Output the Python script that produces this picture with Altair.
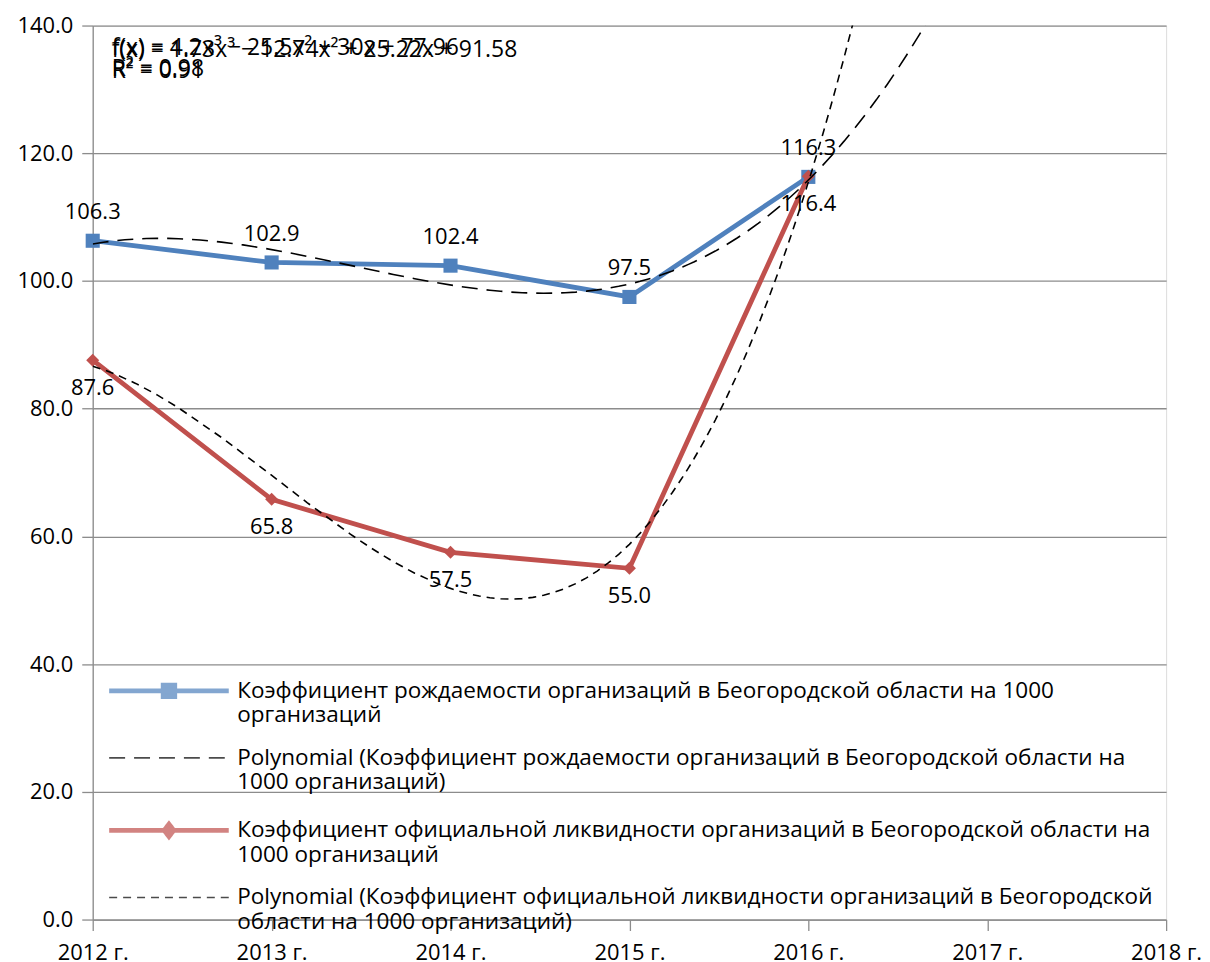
import altair as alt
import pandas as pd

FONT = "Open Sans"
BLUE = "#4F81BD"
RED = "#C0504D"
GRID = "#8c8c8c"

YEARS = [2012, 2013, 2014, 2015, 2016]
BIRTH = [106.3, 102.9, 102.4, 97.5, 116.3]
LIQ = [87.6, 65.8, 57.5, 55.0, 116.4]
X_TICKS = [2012, 2013, 2014, 2015, 2016, 2017, 2018]
Y_TICKS = [0, 20, 40, 60, 80, 100, 120, 140]

S_BIRTH = "Коэффициент рождаемости организаций в Беогородской области на 1000 организаций"
S_LIQ = "Коэффициент официальной ликвидности организаций в Беогородской области на 1000 организаций"
T_BIRTH = "Polynomial (" + S_BIRTH + ")"
T_LIQ = "Polynomial (" + S_LIQ + ")"
SERIES = [S_BIRTH, T_BIRTH, S_LIQ, T_LIQ]
LEGEND_LINES = [
    ["Коэффициент рождаемости организаций в Беогородской области на 1000", "организаций"],
    ["Polynomial (Коэффициент рождаемости организаций в Беогородской области на", "1000 организаций)"],
    ["Коэффициент официальной ликвидности организаций в Беогородской области на", "1000 организаций"],
    ["Polynomial (Коэффициент официальной ликвидности организаций в Беогородской", "области на 1000 организаций)"],
]
EQ_LIQ = ["f(x) = 4.2x³ − 25.5x² + 30x + 77.96", "R² = 0.98"]
EQ_BIRTH = ["f(x) = 1.73x³ − 12.74x² + 25.22x + 91.58", "R² = 0.91"]

df = pd.DataFrame({
    "year": YEARS + YEARS,
    "value": BIRTH + LIQ,
    "series": [S_BIRTH] * len(YEARS) + [S_LIQ] * len(YEARS),
})

x_enc = alt.X(
    "year:Q",
    scale=alt.Scale(domain=[2012, 2018], nice=False, zero=False),
    axis=alt.Axis(values=X_TICKS, labelExpr="datum.value + ' г.'", grid=False,
                  tickSize=11, labelPadding=12, labelFontSize=22, labelFont=FONT,
                  labelColor="black", domainColor=GRID, tickColor=GRID,
                  domainWidth=1.3, tickWidth=1.3, labelFlush=False),
    title=None,
)
y_enc = alt.Y(
    "value:Q",
    scale=alt.Scale(domain=[0, 140], nice=False),
    axis=alt.Axis(values=Y_TICKS, format=".1f", grid=True, gridColor=GRID, gridWidth=1.3,
                  tickSize=11, labelPadding=9, labelFontSize=22, labelFont=FONT,
                  labelColor="black", domainColor=GRID, tickColor=GRID,
                  domainWidth=1.3, tickWidth=1.3),
    title=None,
)

base = alt.Chart(df).encode(x=x_enc, y=y_enc)

blue = base.transform_filter(alt.datum.series == S_BIRTH)
red = base.transform_filter(alt.datum.series == S_LIQ)

blue_line = blue.mark_line(color=BLUE, strokeWidth=4.8)
blue_pts = blue.mark_point(shape="square", filled=True, size=200, color=BLUE, opacity=1)
red_line = red.mark_line(color=RED, strokeWidth=4.8)
red_pts = red.mark_point(shape="diamond", filled=True, size=170, color=RED, opacity=1)

blue_trend = blue.transform_regression(
    "year", "value", method="poly", order=3, extent=[2012, 2018]
).mark_line(color="black", strokeWidth=1.6, strokeDash=[16, 9], clip=True)
red_trend = red.transform_regression(
    "year", "value", method="poly", order=3, extent=[2012, 2018]
).mark_line(color="black", strokeWidth=1.6, strokeDash=[8, 6], clip=True)

blue_lbl = blue.mark_text(dy=-29, fontSize=22, font=FONT, color="black").encode(
    text=alt.Text("value:Q", format=".1f"))
red_lbl = red.mark_text(dy=28, fontSize=22, font=FONT, color="black").encode(
    text=alt.Text("value:Q", format=".1f"))

# legend
label_expr = ""
for name, lines in zip(SERIES, LEGEND_LINES):
    label_expr += "datum.label == '%s' ? ['%s', '%s'] : " % (name, lines[0], lines[1])
label_expr += "datum.label"

PATHS = [
    "M-6,0H6M-0.58,-0.58H0.58V0.58H-0.58Z",
    "M-6,0H6",
    "M-6,0H6M0,-0.62L0.48,0L0,0.62L-0.48,0Z",
    "M-6,0H6",
]
DASHES = [[1, 0], [16, 9], [1, 0], [8, 6]]
WIDTHS = [4.8, 1.6, 4.8, 1.6]

legend = alt.Legend(
    title=None, orient="none", legendX=16, legendY=655, padding=0,
    labelExpr=label_expr, symbolSize=400, symbolOffset=48, labelOffset=56,
    rowPadding=19.5, labelFontSize=22.6, labelFont=FONT, labelColor="black",
    labelLimit=3000, labelBaseline="middle",
    symbolFillColor=BLUE, symbolStrokeColor="black",
)

leg_df = pd.DataFrame({"s": SERIES})
legend_layer = alt.Chart(leg_df).transform_filter("false").mark_point(filled=True).encode(
    fill=alt.Fill("s:N", scale=alt.Scale(domain=SERIES, range=[BLUE, "transparent", RED, "transparent"]), legend=legend),
    stroke=alt.Stroke("s:N", scale=alt.Scale(domain=SERIES, range=[BLUE, "black", RED, "black"]), legend=legend),
    shape=alt.Shape("s:N", scale=alt.Scale(domain=SERIES, range=PATHS), legend=legend),
    strokeDash=alt.StrokeDash("s:N", scale=alt.Scale(domain=SERIES, range=DASHES), legend=legend),
    strokeWidth=alt.StrokeWidth("s:N", scale=alt.Scale(type="ordinal", domain=SERIES, range=WIDTHS), legend=legend),
)

chart = alt.layer(
    blue_line, blue_pts, red_line, red_pts, blue_trend, red_trend, blue_lbl, red_lbl, legend_layer
).properties(
    width=1077, height=897,
    padding={"top": 5, "left": 8, "right": 0, "bottom": 0},
    title=alt.TitleParams(
        text=EQ_LIQ, subtitle=EQ_BIRTH, anchor="start", frame="group", orient="top",
        offset=-69, dx=19, fontSize=23, fontWeight="normal", font=FONT, color="black",
        lineHeight=21, subtitleFontSize=23, subtitleFont=FONT, subtitleColor="black",
        subtitleLineHeight=21, subtitlePadding=-42,
    ),
).configure_view(stroke=None).configure(background="white")

chart.save("out.html", embed_options={"renderer": "svg", "actions": False})
